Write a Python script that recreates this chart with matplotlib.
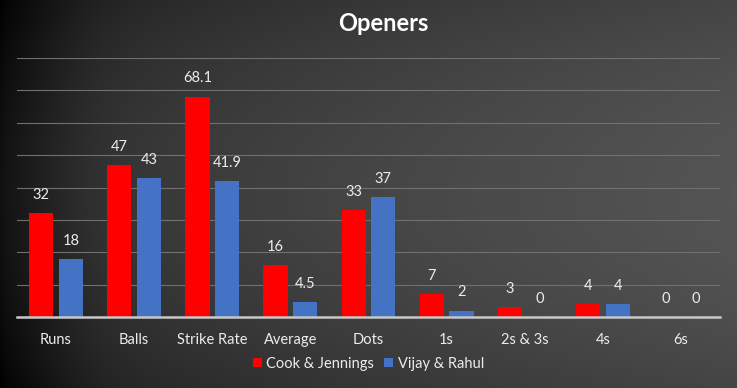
import numpy as np
import matplotlib.pyplot as plt

categories = ['Runs', 'Balls', 'Strike Rate', 'Average', 'Dots', '1s', '2s & 3s', '4s', '6s']
cook_jennings = [32, 47, 68.1, 16, 33, 7, 3, 4, 0]
vijay_rahul = [18, 43, 41.9, 4.5, 37, 2, 0, 4, 0]
series_names = ['Cook & Jennings', 'Vijay & Rahul']

plt.rcParams['font.family'] = ['Lato', 'DejaVu Sans']

fig = plt.figure(figsize=(7.37, 3.88), dpi=100)

# background gradient, dark on the left, lighter to the right
bg = fig.add_axes([0, 0, 1, 1])
xx, yy = np.meshgrid(np.linspace(0, 1, 300), np.linspace(0, 1, 160))
shade = 0.13 + 0.20 * np.sqrt(xx) - 0.06 * (yy - 0.5) ** 2 * 4
shade -= 0.07 * np.exp(-((xx - 0.0) ** 2) / 0.01)
img = np.dstack([shade, shade, shade])
bg.imshow(img, aspect='auto', extent=[0, 1, 0, 1], origin='upper')
bg.axis('off')

ax = fig.add_axes([17 / 737, (388 - 317) / 388, (720 - 17) / 737, (317 - 58) / 388])
ax.patch.set_alpha(0)

x = np.arange(len(categories))
w = 0.31
off = 0.19
b1 = ax.bar(x - off, cook_jennings, w, color='#ff0000', label=series_names[0], zorder=3)
b2 = ax.bar(x + off, vijay_rahul, w, color='#4472c4', label=series_names[1], zorder=3)

for bars, vals in ((b1, cook_jennings), (b2, vijay_rahul)):
    for b, v in zip(bars, vals):
        lab = '%g' % v
        ax.annotate(lab, (b.get_x() + b.get_width() / 2, v), xytext=(0, 8),
                    textcoords='offset points', ha='center', va='bottom',
                    color='#ececec', fontsize=10.5)

ax.set_ylim(0, 80)
ax.set_xlim(-0.5, len(categories) - 0.5)
ax.set_yticks(np.arange(0, 81, 10))
ax.yaxis.grid(True, color='#707070', linewidth=0.8, zorder=0)
ax.tick_params(axis='y', left=False, labelleft=False)
ax.tick_params(axis='x', bottom=False, colors='#ececec', labelsize=10.5, pad=8)
ax.set_xticks(x)
ax.set_xticklabels(categories)
for s in ['top', 'right', 'left']:
    ax.spines[s].set_visible(False)
ax.spines['bottom'].set_color('#c8c8c8')
ax.spines['bottom'].set_linewidth(1.8)
ax.spines['bottom'].set_zorder(4)

fig.text(0.52, 0.94, 'Openers', ha='center', va='center', color='white',
         fontsize=17, fontweight='bold')

leg = fig.legend(loc='center', bbox_to_anchor=(0.5, 0.062), ncol=2, frameon=False,
                 handlelength=0.6, handleheight=0.6, handletextpad=0.3,
                 columnspacing=0.7, fontsize=10.5)
for t in leg.get_texts():
    t.set_color('#ececec')

fig.savefig('out.png', dpi=100)
